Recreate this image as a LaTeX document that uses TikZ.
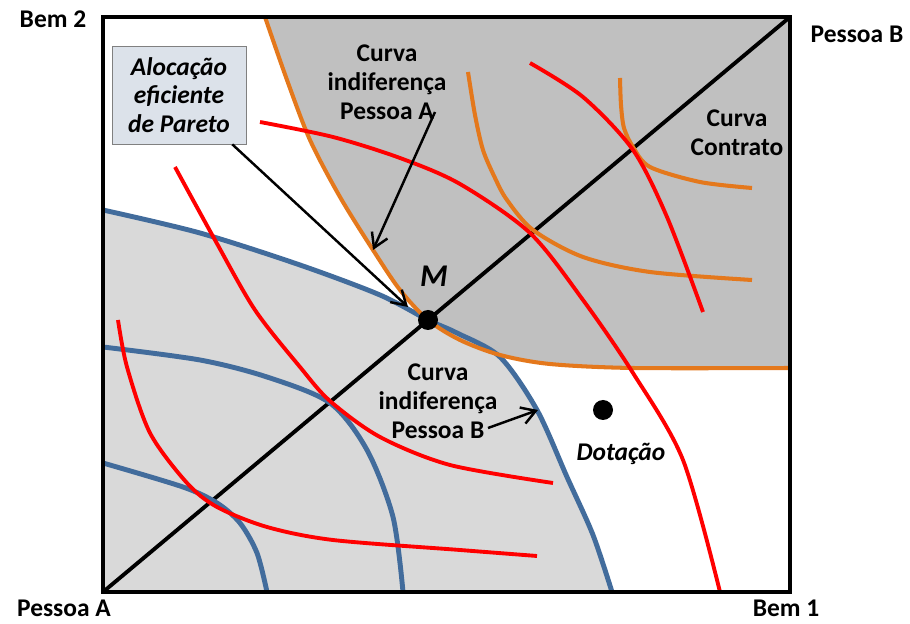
\documentclass[tikz,border=0pt]{standalone}
\usepackage{fontspec}
\setmainfont{Carlito}
\usepackage{tikz}
\usetikzlibrary{arrows.meta}

\definecolor{redline}{RGB}{255,0,0}
\definecolor{orangeline}{RGB}{228,120,28}
\definecolor{blueline}{RGB}{66,108,156}
\definecolor{darkzone}{RGB}{192,192,192}
\definecolor{lightzone}{RGB}{217,217,217}
\definecolor{boxfill}{RGB}{220,226,234}

\begin{document}
\begin{tikzpicture}[x=0.02cm, y=-0.02cm,
  label/.style={font=\fontsize{14.5}{16.4}\selectfont\bfseries, align=center},
  note/.style={font=\fontsize{14.5}{16.4}\selectfont\bfseries\itshape, align=center},
  indA/.style={orangeline, line width=2.3pt},
  indB/.style={blueline, line width=2.8pt},
  offer/.style={redline, line width=2.2pt},
  arrow/.style={-{Straight Barb[length=2.8mm,width=3.4mm]}, line width=1.4pt},
  dot/.style={circle, fill=black, inner sep=0pt, minimum size=0.4cm},
]
  \useasboundingbox (0,0) rectangle (910,624);

  % shaded regions
  \fill[lightzone] (103,592) -- plot[smooth] coordinates {(103,210) (200,233) (300,265) (380,295) (428,320) (457,333) (500,357) (537,410) (567,477) (593,535) (612,592)} -- cycle;
  \fill[darkzone] (790,17) -- plot[smooth] coordinates {(265,17) (287,80) (310,140) (340,197) (373,250) (400,290) (428,320) (460,340) (500,355) (550,364) (633,368) (790,368)} -- cycle;

  % contract curve
  \draw[line width=2.2pt] (103,592) -- (790,17);

  % indifference curves
  \draw[indB] plot[smooth] coordinates {(103,210) (200,233) (300,265) (380,295) (428,320) (457,333) (500,357) (537,410) (567,477) (593,535) (612,592)};
  \draw[indB] plot[smooth] coordinates {(103,347) (200,360) (267,377) (330,403) (367,450) (393,517) (403,592)};
  \draw[indB] plot[smooth] coordinates {(103,463) (183,487) (217,503) (240,523) (257,553) (267,592)};

  \draw[indA] plot[smooth] coordinates {(265,17) (287,80) (310,140) (340,197) (373,250) (400,290) (428,320) (460,340) (500,355) (550,364) (633,368) (790,368)};
  \draw[indA] plot[smooth] coordinates {(468,72) (475,115) (483,150) (495,178) (507,200) (533,230) (583,257) (650,272) (752,280)};
  \draw[indA] plot[smooth] coordinates {(620,78) (621,105) (624,128) (633,147) (650,167) (700,182) (752,188)};

  \draw[offer] plot[smooth] coordinates {(118,320) (127,367) (150,433) (187,483) (217,507) (267,527) (333,540) (460,550) (537,556)};
  \draw[offer] plot[smooth] coordinates {(175,167) (215,240) (255,310) (300,367) (330,401) (380,437) (450,465) (553,483)};
  \draw[offer] plot[smooth] coordinates {(260,122) (333,137) (400,158) (460,184) (530,233) (583,300) (633,373) (683,460) (720,592)};
  \draw[offer] plot[smooth] coordinates {(530,63) (583,97) (633,150) (667,217) (703,312)};

  % box
  \draw[line width=2.6pt] (103,17) rectangle (790,592);

  \node[dot] (m) at (428,320) {};
  \node[dot] (endow) at (603,410) {};

  % axis labels
  \node[label, anchor=base] (bem2) at (53,28) {Bem 2};
  \node[label, anchor=base] (pessoaB) at (857,43) {Pessoa B};
  \node[label, anchor=base] (pessoaA) at (64,617) {Pessoa A};
  \node[label, anchor=base] (bem1) at (786,617) {Bem 1};

  \node[note, anchor=base, font=\fontsize{18}{20}\selectfont\bfseries\itshape] (mlab) at (434,287) {M};
  \node[note, anchor=base] (endowlab) at (621,461) {Dotação};

  \node[note, draw=gray, fill=boxfill, minimum width=2.68cm, minimum height=1.96cm] (pareto) at (179,95) {Alocação\\eficiente\\de Pareto};
  \node[label] (curvaA) at (387,82) {Curva\\indiferença\\Pessoa A};
  \node[label] (curvaB) at (438,401) {Curva\\indiferença\\Pessoa B};
  \node[label] (contrato) at (737,133) {Curva\\Contrato};

  \coordinate (aTail) at (435,112);
  \coordinate (aTip) at (373,250);
  \coordinate (bTail) at (488,428);
  \coordinate (bTip) at (538,410);
  \coordinate (mTip) at (408,307);

  \draw[arrow] (pareto) -- (mTip);
  \draw[arrow] (aTail) -- (aTip);
  \draw[arrow] (bTail) -- (bTip);
\end{tikzpicture}
\end{document}
